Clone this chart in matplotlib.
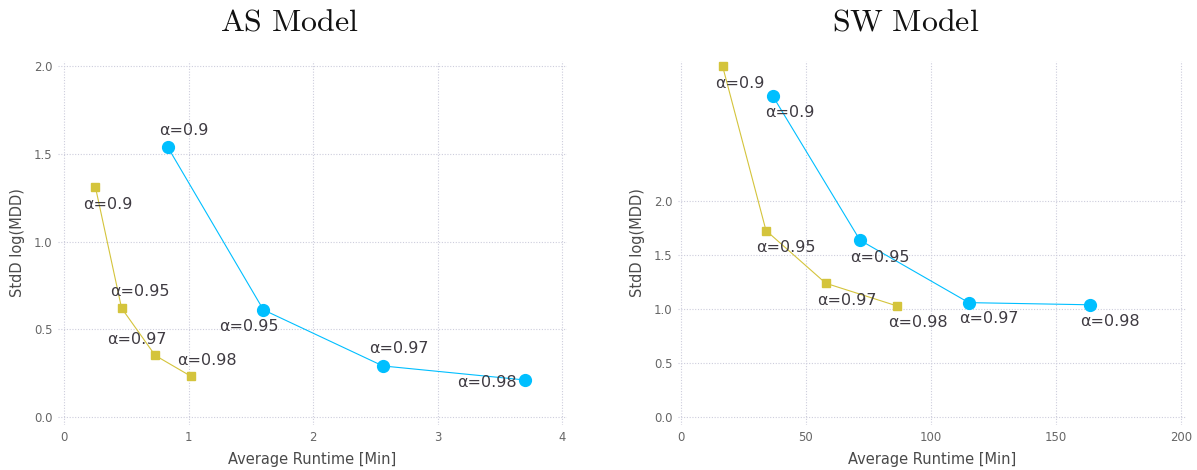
import matplotlib
matplotlib.use('Agg')
import matplotlib.pyplot as plt

plt.rcParams['font.family'] = ['DejaVu Sans']
plt.rcParams['mathtext.fontset'] = 'cm'

# data
alpha_labels = ['α=0.9', 'α=0.95', 'α=0.97', 'α=0.98']

as_blue_x = [0.83, 1.60, 2.56, 3.70]
as_blue_y = [1.54, 0.61, 0.29, 0.21]
as_yel_x = [0.25, 0.46, 0.73, 1.02]
as_yel_y = [1.31, 0.62, 0.35, 0.23]

sw_blue_x = [36.8, 71.7, 115.2, 163.5]
sw_blue_y = [2.98, 1.64, 1.06, 1.04]
sw_yel_x = [16.7, 34.1, 58.0, 86.4]
sw_yel_y = [3.26, 1.73, 1.24, 1.03]

BLUE = '#00BFFF'
YELLOW = '#D4C43C'
TXT = '#3f3b42'

W, H = 1197, 470
fig = plt.figure(figsize=(W / 100, H / 100), dpi=100)


def px_axes(x0, x1, top, bottom):
    return fig.add_axes([x0 / W, 1 - bottom / H, (x1 - x0) / W, (bottom - top) / H])


def style(ax):
    for s in ax.spines.values():
        s.set_visible(False)
    ax.grid(True, linestyle=(0, (1, 1.5)), color='#cdcddc', linewidth=0.8)
    ax.tick_params(length=0, labelsize=8.4, labelcolor='#666666', pad=4)
    ax.set_xlabel('Average Runtime [Min]', fontsize=10.5, color='#4a4a4a', labelpad=6)
    ax.set_ylabel('StdD log(MDD)', fontsize=10.5, color='#4a4a4a', labelpad=6)


def draw(ax, xs, ys, color, marker, ms, offsets):
    ax.plot(xs, ys, color=color, lw=0.8, marker=marker, ms=ms,
            mec=color, mfc=color, zorder=3)
    for x, y, lab, off in zip(xs, ys, alpha_labels, offsets):
        ax.annotate(lab, (x, y), xytext=off, textcoords='offset pixels',
                    ha='center', va='center', fontsize=11.5, color=TXT, zorder=4)


# ---- AS Model ----
ax1 = px_axes(58, 567, 61, 425)
style(ax1)
draw(ax1, as_blue_x, as_blue_y, BLUE, 'o', 8.5,
     [(16, 16), (-15, -17), (16, 17), (-38, -3)])
draw(ax1, as_yel_x, as_yel_y, YELLOW, 's', 5.5,
     [(12, -17), (18, 17), (-18, 16), (16, 16)])
ax1.set_xlim(-0.051, 4.04)
ax1.set_ylim(-0.047, 2.03)
ax1.set_xticks([0, 1, 2, 3, 4])
ax1.set_yticks([0.0, 0.5, 1.0, 1.5, 2.0])
ax1.set_yticklabels(['0.0', '0.5', '1.0', '1.5', '2.0'])

# ---- SW Model ----
ax2 = px_axes(678, 1186, 61, 425)
style(ax2)
draw(ax2, sw_blue_x, sw_blue_y, BLUE, 'o', 8.5,
     [(17, -17), (20, -17), (20, -16), (20, -17)])
draw(ax2, sw_yel_x, sw_yel_y, YELLOW, 's', 5.5,
     [(17, -18), (20, -17), (21, -17), (21, -17)])
ax2.set_xlim(-1.1, 202.1)
ax2.set_ylim(-0.077, 3.305)
ax2.set_xticks([0, 50, 100, 150, 200])
ax2.set_yticks([0.0, 0.5, 1.0, 1.5, 2.0])
ax2.set_yticklabels(['0.0', '0.5', '1.0', '1.5', '2.0'])

fig.text(289 / W, 1 - 22 / H, r'$\mathrm{AS\ Model}$', ha='center', va='center',
         fontsize=23, color='#111111')
fig.text(906 / W, 1 - 22 / H, r'$\mathrm{SW\ Model}$', ha='center', va='center',
         fontsize=23, color='#111111')

fig.savefig('out.png', dpi=100)
